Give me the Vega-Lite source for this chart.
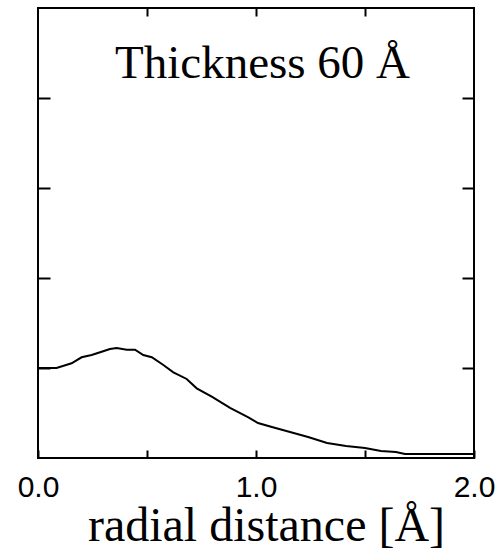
{
  "$schema": "https://vega.github.io/schema/vega-lite/v6.json",
  "width": 436,
  "height": 450,
  "autosize": {"type": "none"},
  "padding": {"left": 38, "top": 8, "right": 24, "bottom": 93},
  "background": "white",
  "config": {
    "view": {"stroke": "black", "strokeWidth": 2},
    "axis": {"domain": false, "grid": false, "tickColor": "black", "tickWidth": 2}
  },
  "resolve": {"axis": {"x": "independent", "y": "independent"}},
  "layer": [
    {
      "data": {"values": [
        {"r": 0.0, "g": 1.0},
        {"r": 0.085, "g": 1.0},
        {"r": 0.154, "g": 1.052},
        {"r": 0.2, "g": 1.119},
        {"r": 0.246, "g": 1.144},
        {"r": 0.292, "g": 1.181},
        {"r": 0.33, "g": 1.211},
        {"r": 0.361, "g": 1.222},
        {"r": 0.407, "g": 1.203},
        {"r": 0.445, "g": 1.203},
        {"r": 0.483, "g": 1.144},
        {"r": 0.522, "g": 1.119},
        {"r": 0.575, "g": 1.033},
        {"r": 0.621, "g": 0.952},
        {"r": 0.682, "g": 0.878},
        {"r": 0.728, "g": 0.774},
        {"r": 0.797, "g": 0.681},
        {"r": 0.881, "g": 0.556},
        {"r": 0.965, "g": 0.452},
        {"r": 1.009, "g": 0.389},
        {"r": 1.073, "g": 0.344},
        {"r": 1.156, "g": 0.289},
        {"r": 1.239, "g": 0.233},
        {"r": 1.326, "g": 0.167},
        {"r": 1.413, "g": 0.133},
        {"r": 1.5, "g": 0.111},
        {"r": 1.573, "g": 0.078},
        {"r": 1.642, "g": 0.067},
        {"r": 1.683, "g": 0.044},
        {"r": 2.0, "g": 0.044}
      ]},
      "mark": {"type": "line", "color": "black", "strokeWidth": 2},
      "encoding": {
        "x": {
          "field": "r", "type": "quantitative",
          "scale": {"domain": [0, 2], "nice": false, "zero": false},
          "axis": {
            "orient": "bottom",
            "values": [0, 0.5, 1, 1.5, 2],
            "labelExpr": "datum.value % 1 == 0 ? format(datum.value, '.1f') : ''",
            "ticks": true,
            "tickSize": -8,
            "tickColor": "black",
            "tickWidth": 2,
            "labelPadding": 22,
            "labelFont": "Liberation Sans",
            "labelFontSize": 30,
            "labelColor": "black",
            "labelFlush": false,
            "labelOverlap": false,
            "title": "radial distance [Å]",
            "titleFont": "Liberation Serif",
            "titleFontSize": 48,
            "titleFontWeight": "normal",
            "titleColor": "black",
            "titleX": 228,
            "titleAlign": "center",
            "titlePadding": 0
          }
        },
        "y": {
          "field": "g", "type": "quantitative",
          "scale": {"domain": [0, 5], "nice": false, "zero": false},
          "axis": {
            "orient": "left",
            "values": [1, 2, 3, 4],
            "labels": false,
            "tickSize": -12,
            "tickWidth": 2,
            "title": null
          }
        }
      }
    },
    {
      "data": {"values": [
        {"r": 1.03, "g": 4.22, "label": "Thickness 60 Å"}
      ]},
      "mark": {"type": "text", "font": "Liberation Serif", "fontSize": 47, "color": "black", "align": "center", "baseline": "alphabetic"},
      "encoding": {
        "x": {
          "field": "r", "type": "quantitative",
          "axis": {"orient": "top", "values": [0.5, 1, 1.5], "labels": false, "ticks": true, "tickSize": -8, "tickColor": "black", "tickWidth": 2, "title": null}
        },
        "y": {
          "field": "g", "type": "quantitative",
          "axis": {"orient": "right", "values": [1, 2, 3, 4], "labels": false, "tickSize": -12, "tickWidth": 2, "title": null}
        },
        "text": {"field": "label"}
      }
    }
  ]
}
